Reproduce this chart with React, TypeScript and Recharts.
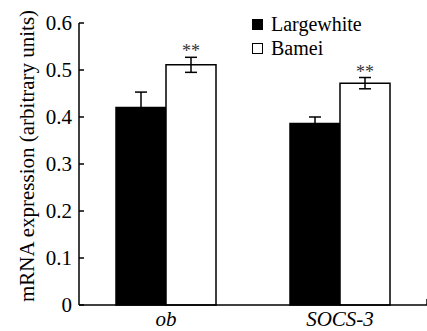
import React from "react";
import {
  BarChart,
  Bar,
  XAxis,
  YAxis,
  ErrorBar,
  LabelList,
  Legend,
  ReferenceLine,
} from "recharts";

const categories = ["ob", "SOCS-3"];
const seriesNames = ["Largewhite", "Bamei"];
const largewhite = [0.42, 0.386];
const largewhiteErr = [0.033, 0.014];
const bamei = [0.511, 0.472];
const bameiErr = [0.016, 0.012];
const significance = ["**", "**"];
const yTicks = [0, 0.1, 0.2, 0.3, 0.4, 0.5, 0.6];

const FONT = "Liberation Serif";

const data = categories.map((name, i) => ({
  name,
  largewhite: largewhite[i],
  largewhiteErr: largewhiteErr[i],
  bamei: bamei[i],
  bameiErr: bameiErr[i],
}));

interface LegendEntry {
  value: string;
  color: string;
}

function ChartLegend({ payload }: { payload?: LegendEntry[] }) {
  if (!payload) return null;
  const items = [...payload].sort(
    (a, b) => seriesNames.indexOf(a.value) - seriesNames.indexOf(b.value)
  );
  return (
    <div style={{ fontFamily: FONT, fontSize: 20, lineHeight: "24px", color: "#000" }}>
      {items.map((entry) => (
        <div key={entry.value} style={{ display: "flex", alignItems: "center" }}>
          <span
            style={{
              display: "inline-block",
              width: 9,
              height: 9,
              background: entry.color,
              border: "1px solid #000",
              marginRight: 8,
            }}
          />
          <span style={{ fontFamily: FONT }}>{entry.value}</span>
        </div>
      ))}
    </div>
  );
}

function YTick(props: any) {
  const { x, y, payload } = props;
  const v = payload.value as number;
  return (
    <text x={x} y={y} dy="0.355em" textAnchor="end" style={{ fontFamily: FONT }} fontSize={21} fill="#000">
      {v === 0 ? "0" : v.toFixed(1)}
    </text>
  );
}

function XTick(props: any) {
  const { x, y, payload } = props;
  return (
    <text
      x={x}
      y={y}
      dy="0.71em"
      textAnchor="middle"
      style={{ fontFamily: FONT, fontStyle: "italic" }}
      fontSize={21}
      fill="#000"
    >
      {payload.value}
    </text>
  );
}

function SignificanceLabel(props: any) {
  const { x, y, width, height, index } = props;
  const errPx = (height * bameiErr[index]) / bamei[index];
  return (
    <text
      x={x + width / 2}
      y={y - errPx}
      textAnchor="middle"
      style={{ fontFamily: FONT }}
      fontSize={18}
      fill="#333"
    >
      {significance[index]}
    </text>
  );
}

function YLabel(props: any) {
  const { viewBox } = props;
  const cx = 34;
  const cy = viewBox.y + viewBox.height / 2 - 8;
  return (
    <text
      x={cx}
      y={cy}
      transform={`rotate(-90, ${cx}, ${cy})`}
      textAnchor="middle"
      style={{ fontFamily: FONT }}
      fontSize={21}
      fill="#000"
    >
      mRNA expression (arbitrary units)
    </text>
  );
}

export default function App() {
  return (
    <div style={{ position: "absolute", left: 0, top: 0, background: "#fff" }}>
      <BarChart
        width={427}
        height={331}
        data={data}
        margin={{ top: 23, right: 0, left: 0, bottom: 0 }}
        barGap={0}
        barSize={50}
      >
        <XAxis
          dataKey="name"
          height={26}
          axisLine={{ stroke: "#000", strokeWidth: 1.5 }}
          tickLine={false}
          tickMargin={0}
          tick={<XTick />}
        />
        <XAxis xAxisId="n" type="number" domain={[0, 2]} allowDataOverflow hide />
        <YAxis
          width={79}
          domain={[0, 0.6]}
          ticks={yTicks}
          interval={0}
          axisLine={{ stroke: "#000", strokeWidth: 1.5 }}
          tickLine={{ stroke: "#000", strokeWidth: 1.5 }}
          tickSize={-5}
          tickMargin={12}
          tick={<YTick />}
          label={YLabel}
        />
        <ReferenceLine
          xAxisId="n"
          segment={[
            { x: 1, y: 0 },
            { x: 1, y: 0.013 },
          ]}
          stroke="#000"
          strokeWidth={1.5}
        />
        <Legend
          layout="vertical"
          align="center"
          verticalAlign="middle"
          wrapperStyle={{ left: 252, top: 12, width: "auto", height: "auto" }}
          content={<ChartLegend />}
        />
        <Bar
          dataKey="largewhite"
          name="Largewhite"
          fill="#000"
          stroke="#000"
          strokeWidth={1.5}
          isAnimationActive={false}
        >
          <ErrorBar dataKey="largewhiteErr" width={6} stroke="#000" strokeWidth={1.5} />
        </Bar>
        <Bar
          dataKey="bamei"
          name="Bamei"
          fill="#fff"
          stroke="#000"
          strokeWidth={1.5}
          isAnimationActive={false}
        >
          <ErrorBar dataKey="bameiErr" width={6} stroke="#000" strokeWidth={1.5} />
          <LabelList dataKey="bamei" content={SignificanceLabel} />
        </Bar>
      </BarChart>
    </div>
  );
}
